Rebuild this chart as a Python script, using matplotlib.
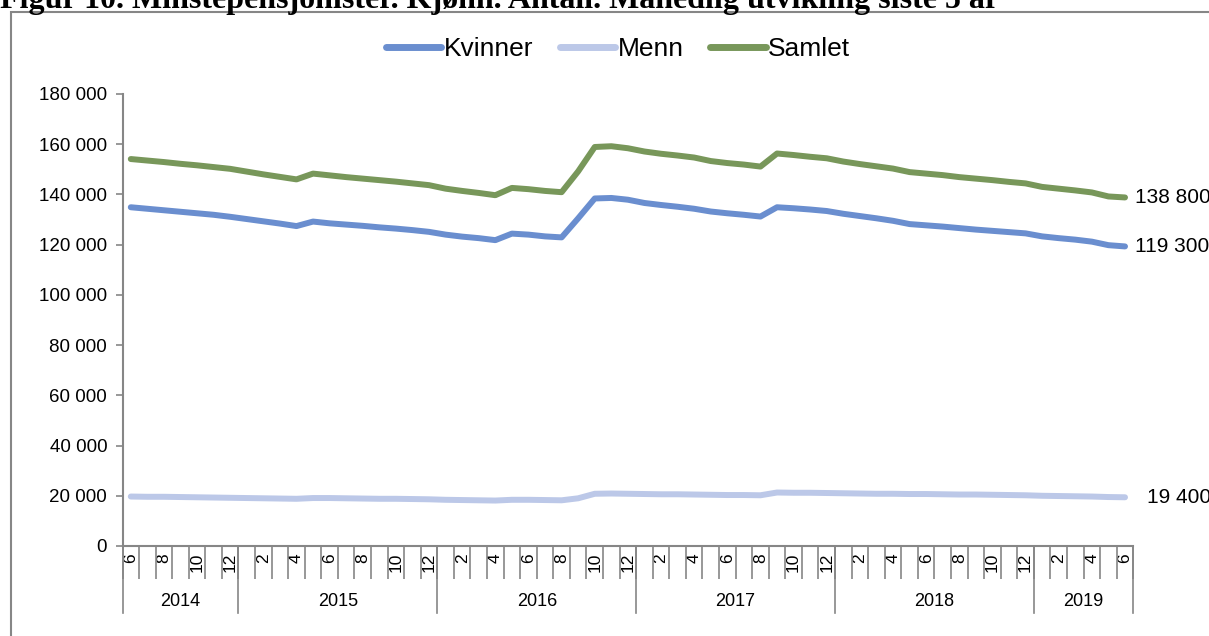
"""
Figur 10 - Minstepensjonister, kjønn, antall. Månedlig utvikling siste 5 år.
"""
import matplotlib
matplotlib.use("Agg")
import matplotlib.pyplot as plt
from matplotlib.patches import Rectangle
from matplotlib.transforms import blended_transform_factory

plt.rcParams["font.family"] = ["Liberation Sans", "DejaVu Sans"]

TITLE = "Figur 10. Minstepensjonister. Kjønn. Antall. Månedlig utvikling siste 5 år"

# months 2014-06 .. 2019-06
YEARS = [2014, 2015, 2016, 2017, 2018, 2019]
MONTHS = [6, 7, 8, 9, 10, 11, 12] + list(range(1, 13)) * 4 + [1, 2, 3, 4, 5, 6]

kvinner = [
    134900, 134300, 133700, 133100, 132500, 131900, 131100,
    130200, 129300, 128400, 127400, 129200, 128500, 128000, 127500, 126900, 126400, 125800, 125100,
    124000, 123200, 122600, 121800, 124400, 124000, 123300, 122900, 130500, 138400, 138600, 137900,
    136600, 135800, 135100, 134300, 133200, 132500, 131900, 131200, 134900, 134500, 134000, 133400,
    132300, 131400, 130500, 129500, 128200, 127700, 127200, 126600, 126000, 125500, 125000, 124500,
    123300, 122600, 122000, 121200, 119800, 119300,
]
menn = [
    19700, 19600, 19600, 19500, 19400, 19300, 19200,
    19100, 19000, 18900, 18800, 19100, 19100, 19000, 18900, 18800, 18800, 18700, 18600,
    18400, 18300, 18200, 18100, 18400, 18400, 18300, 18200, 19000, 20800, 20900, 20800,
    20700, 20600, 20600, 20500, 20400, 20300, 20300, 20200, 21300, 21200, 21200, 21100,
    21000, 20900, 20800, 20800, 20700, 20700, 20600, 20500, 20500, 20400, 20300, 20200,
    20000, 19900, 19800, 19700, 19500, 19400,
]
samlet = [
    154100, 153500, 152900, 152200, 151600, 150900, 150200,
    149100, 148000, 147000, 146000, 148300, 147600, 146900, 146300, 145700, 145100, 144400, 143700,
    142300, 141400, 140600, 139700, 142600, 142100, 141400, 140900, 149200, 158900, 159200, 158400,
    157100, 156200, 155500, 154700, 153300, 152500, 151900, 151100, 156300, 155700, 155000, 154400,
    153100, 152100, 151200, 150300, 148900, 148300, 147700, 146900, 146300, 145700, 145000, 144400,
    143000, 142300, 141600, 140800, 139200, 138800,
]
end_labels = ["119 300", "19 400", "138 800"]

SERIES = [("Kvinner", kvinner, "#6a8ecf"), ("Menn", menn, "#bcc8e8"), ("Samlet", samlet, "#78975a")]
GRAY = "#868686"


def fmt(v):
    return f"{int(v):,}".replace(",", " ")


def main():
    fig = plt.figure(figsize=(12.09, 6.36), dpi=100)
    ax = fig.add_axes([122.5 / 1209, 90 / 636, 1010.8 / 1209, 452 / 636])

    x = list(range(len(MONTHS)))
    for (name, vals, color), lab in zip(SERIES, end_labels):
        ax.plot(x, vals, color=color, lw=4.3, label=name, solid_capstyle="round", solid_joinstyle="round")
        dx = 16 if name == "Menn" else 7
        ax.annotate(lab, (x[-1], vals[-1]), xytext=(dx, 0), textcoords="offset points",
                    va="center", ha="left", fontsize=15, annotation_clip=False)

    ax.set_xlim(-0.5, len(MONTHS) - 0.5)
    ax.set_ylim(0, 180000)
    ax.set_yticks(range(0, 180001, 20000))
    ax.set_yticklabels([fmt(v) for v in range(0, 180001, 20000)], fontsize=13.5)
    ax.tick_params(axis="y", direction="out", length=5, width=1.2, color=GRAY, pad=6)

    # month labels every second month, separators between every month
    ax.set_xticks(x)
    ax.set_xticklabels([str(m) if i % 2 == 0 else "" for i, m in enumerate(MONTHS)],
                       rotation=90, fontsize=12.5)
    ax.tick_params(axis="x", which="major", length=0, pad=5)
    ax.set_xticks([i - 0.5 for i in range(len(MONTHS) + 1)], minor=True)
    ax.tick_params(axis="x", which="minor", length=24, width=1.2, color=GRAY)

    for s in ["top", "right"]:
        ax.spines[s].set_visible(False)
    for s in ["left", "bottom"]:
        ax.spines[s].set_color(GRAY)
        ax.spines[s].set_linewidth(1.5)

    # year groups
    trans = blended_transform_factory(ax.transData, ax.transAxes)
    bounds = [-0.5] + [i - 0.5 for i, m in enumerate(MONTHS) if m == 1] + [len(MONTHS) - 0.5]
    for b in bounds:
        ax.plot([b, b], [0, -0.148], transform=trans, color=GRAY, lw=1.2, clip_on=False)
    for yr, b0, b1 in zip(YEARS, bounds[:-1], bounds[1:]):
        ax.text((b0 + b1) / 2, -0.122, str(yr), transform=trans, ha="center", va="center", fontsize=13)

    leg = fig.legend(loc="center", bbox_to_anchor=(618 / 1209, 1 - 49 / 636), ncol=3, frameon=False,
                     fontsize=19, handlelength=2.1, handletextpad=0.1, columnspacing=1.0)
    for h in leg.legend_handles:
        h.set_linewidth(5)

    fig.text(0.0, 1 - 8 / 636, TITLE, ha="left", va="baseline", fontsize=23,
             fontweight="bold", family="Liberation Serif")
    fig.patches.append(Rectangle((10.5 / 1209, -0.1), 1.2, 1 - 11.5 / 636 + 0.1, transform=fig.transFigure,
                                 fill=False, edgecolor=GRAY, lw=1.5))

    fig.savefig("out.png", dpi=100)


if __name__ == "__main__":
    main()
